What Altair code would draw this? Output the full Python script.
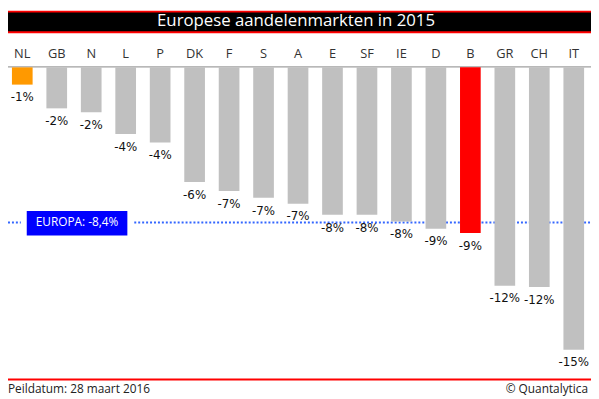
import altair as alt
import pandas as pd

countries = ["NL", "GB", "N", "L", "P", "DK", "F", "S", "A", "E", "SF", "IE", "D", "B", "GR", "CH", "IT"]
values = [-0.93, -2.21, -2.42, -3.59, -4.05, -6.18, -6.66, -7.03, -7.35, -7.95, -7.95, -8.31, -8.70, -8.93, -11.77, -11.84, -15.22]
labels = ["-1%", "-2%", "-2%", "-4%", "-4%", "-6%", "-7%", "-7%", "-7%", "-8%", "-8%", "-8%", "-9%", "-9%", "-12%", "-12%", "-15%"]
bar_colors = ["#FF9900"] + ["#C0C0C0"] * 12 + ["#FF0000"] + ["#C0C0C0"] * 3
europa_value = -8.36
europa_label = "EUROPA: -8,4%"
title_text = "Europese aandelenmarkten in 2015"
footer_left = "Peildatum: 28 maart 2016"
footer_right = "© Quantalytica"

W, H = 591, 391
df = pd.DataFrame({"country": countries, "value": values, "label": labels, "color": bar_colors})

xs = alt.Scale(range=[-3, 591], paddingInner=0.4, paddingOuter=0.2)
ys = alt.Scale(domain=[0, -16], range=[57.5, 358.3])
X = alt.X("country:N", sort=countries, scale=xs, axis=None)
Y = alt.Y("value:Q", scale=ys, axis=None)

base = alt.Chart(df)

bars = base.mark_bar().encode(x=X, y=Y, color=alt.Color("color:N", scale=None))
vlabels = base.mark_text(baseline="middle", dy=13, font="DejaVu Sans", fontSize=12, color="#111").encode(
    x=X, y=Y, text="label:N")
clabels = base.mark_text(baseline="middle", font="Open Sans", fontSize=13, color="#333").encode(
    x=X, y=alt.value(44), text="country:N")

one = alt.Chart(pd.DataFrame({"value": [europa_value], "txt": [europa_label]}))

axis_line = one.mark_rule(color="#A0A0A0", strokeWidth=1.5).encode(
    x=alt.value(0), x2=alt.value(W), y=alt.value(57))

title_red = one.mark_rect(color="#FF0000").encode(
    x=alt.value(0), x2=alt.value(W), y=alt.value(0), y2=alt.value(23))
title_black = one.mark_rect(color="#000000").encode(
    x=alt.value(0), x2=alt.value(W), y=alt.value(2), y2=alt.value(21))
title = one.mark_text(color="white", font="Open Sans", fontSize=17, baseline="middle").encode(
    x=alt.value(292), y=alt.value(10.5), text=alt.value(title_text))

europa_line = one.mark_rule(color="#3366FF", strokeWidth=2, strokeDash=[2, 2]).encode(
    x=alt.value(0), x2=alt.value(W), y=Y)
europa_box = one.mark_rect(color="#0000FF", stroke="white", strokeWidth=6).encode(
    x=alt.value(16), x2=alt.value(124), y=alt.value(200), y2=alt.value(231))
europa_text = one.mark_text(color="white", font="Open Sans", fontSize=12, baseline="middle").encode(
    x=alt.value(70), y=Y, text="txt:N")

footer_line = one.mark_rule(color="#FF0000", strokeWidth=2).encode(
    x=alt.value(0), x2=alt.value(W), y=alt.value(374))
f_left = one.mark_text(color="#222", font="Open Sans", fontSize=12, align="left", baseline="middle").encode(
    x=alt.value(0), y=alt.value(384), text=alt.value(footer_left))
f_right = one.mark_text(color="#222", font="Open Sans", fontSize=12, align="right", baseline="middle").encode(
    x=alt.value(588), y=alt.value(384), text=alt.value(footer_right))

chart = alt.layer(
    title_red, title_black, title, axis_line, europa_line, bars, vlabels, clabels,
    europa_box, europa_text, footer_line, f_left, f_right
).properties(
    width=W, height=H, autosize=alt.AutoSizeParams(type="none"), padding=0
).configure_view(stroke=None)

chart.save("out.html", embed_options={"renderer": "svg", "actions": False})
